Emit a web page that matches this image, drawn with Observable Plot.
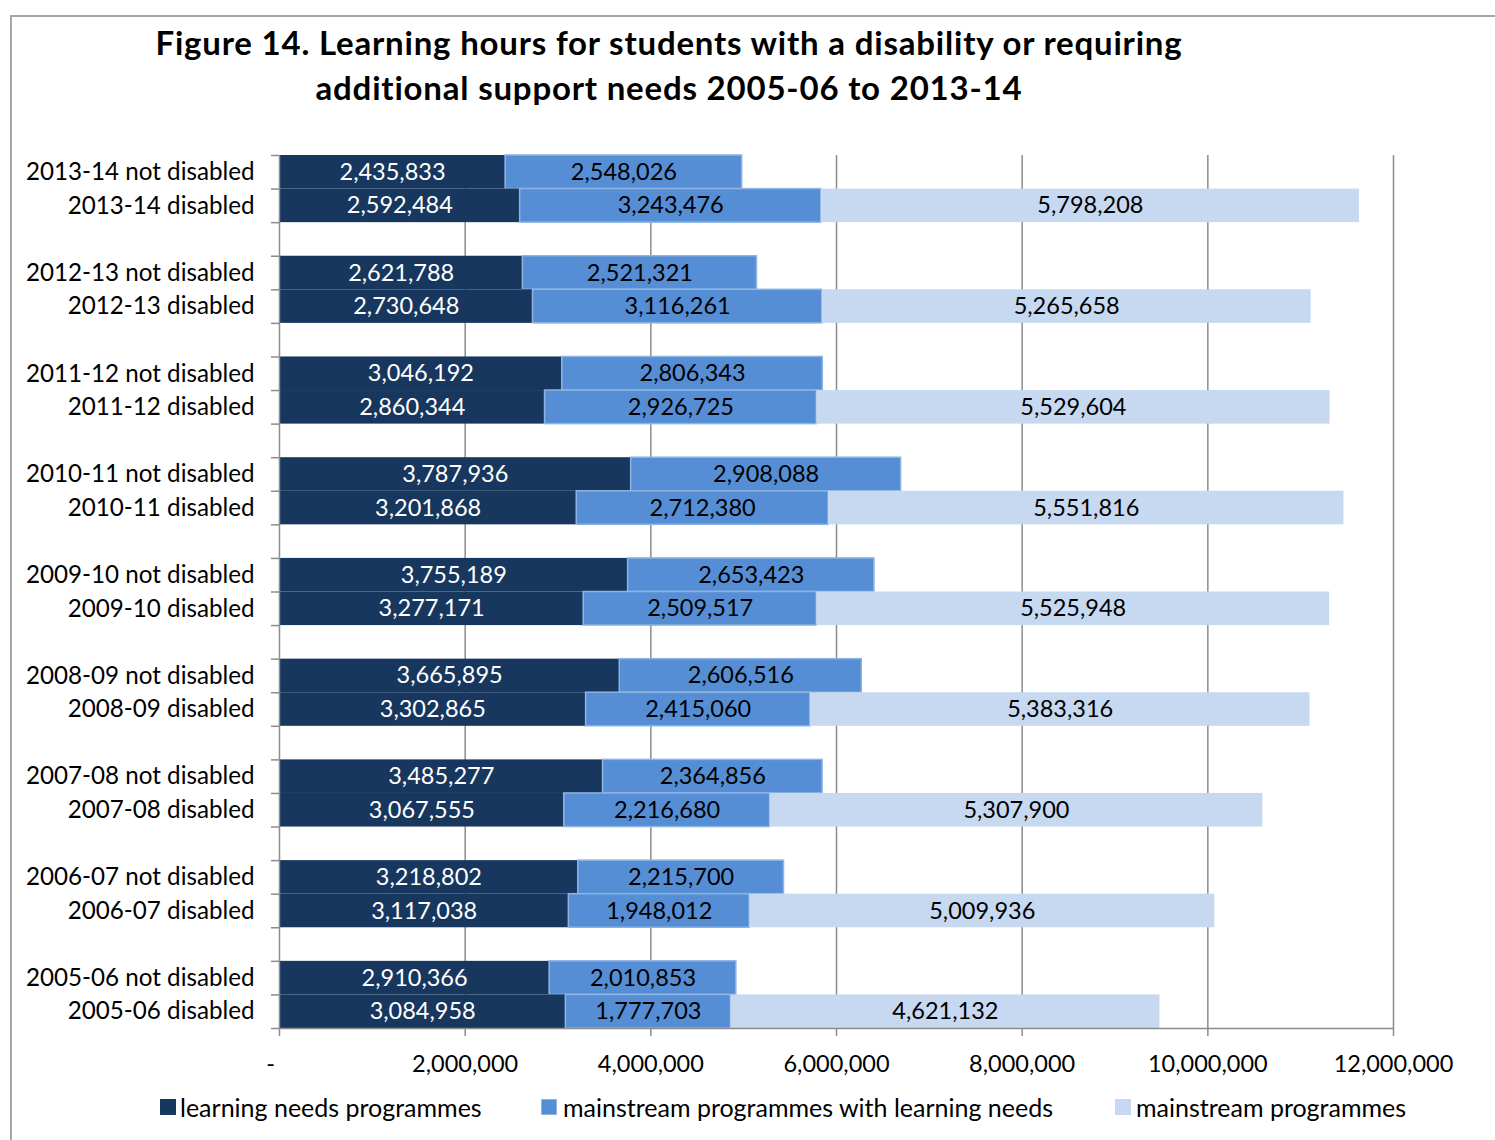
<!DOCTYPE html>
<html>
<head>
<meta charset="utf-8">
<script src="https://cdn.jsdelivr.net/npm/d3@7"></script>
<script src="https://cdn.jsdelivr.net/npm/@observablehq/plot@0.6"></script>
<style>
  html, body { margin: 0; padding: 0; background: #fff; overflow: hidden; }
  body { width: 1495px; height: 1140px; position: relative; font-family: Lato, "Open Sans", sans-serif; }
  #frame { position: absolute; left: 10px; top: 15px; width: 1500px; height: 1140px; border: 2px solid #a6a6a6; box-sizing: border-box; }
  #title { position: absolute; left: 0; top: 20px; width: 1338px; text-align: center; font-weight: 700; font-size: 33px; letter-spacing: 0.8px; line-height: 45px; color: #000; }
  #chart { position: absolute; left: 0; top: 0; }
  .lg { position: absolute; top: 1092px; font-size: 25px; line-height: 30px; color: #000; white-space: nowrap; }
  .sw { position: absolute; width: 16px; height: 16px; top: 1099px; }
</style>
</head>
<body>
<div id="frame"></div>
<div id="chart"></div>
<div id="title">Figure 14. Learning hours for students with a disability or requiring<br>additional support needs 2005-06 to 2013-14</div>
<div id="legend"></div>
<script>
// ---- data (top to bottom) ----
const years = ["2013-14", "2012-13", "2011-12", "2010-11", "2009-10", "2008-09", "2007-08", "2006-07", "2005-06"];
const groups = ["not disabled", "disabled"];
const seriesNames = ["learning needs programmes", "mainstream programmes with learning needs", "mainstream programmes"];
const seriesColors = ["#17375E", "#558ED5", "#C6D9F1"];
// learning needs programmes: [not disabled, disabled] per year
const learningNeeds = [
  [2435833, 2592484], [2621788, 2730648], [3046192, 2860344], [3787936, 3201868], [3755189, 3277171],
  [3665895, 3302865], [3485277, 3067555], [3218802, 3117038], [2910366, 3084958]
];
const mainstreamWithNeeds = [
  [2548026, 3243476], [2521321, 3116261], [2806343, 2926725], [2908088, 2712380], [2653423, 2509517],
  [2606516, 2415060], [2364856, 2216680], [2215700, 1948012], [2010853, 1777703]
];
const mainstream = [
  [null, 5798208], [null, 5265658], [null, 5529604], [null, 5551816], [null, 5525948],
  [null, 5383316], [null, 5307900], [null, 5009936], [null, 4621132]
];
const xTicks = [0, 2000000, 4000000, 6000000, 8000000, 10000000, 12000000];

// ---- build table ----
const rows = [];
const segments = [];
years.forEach((yr, g) => {
  groups.forEach((grp, r) => {
    const idx = g * 3 + r;
    rows.push({idx, label: `${yr} ${grp}`});
    const vals = [learningNeeds[g][r], mainstreamWithNeeds[g][r], mainstream[g][r]];
    let acc = 0;
    vals.forEach((v, s) => {
      if (v == null) return;
      segments.push({idx, series: s, x1: acc, x2: acc + v, value: v});
      acc += v;
    });
  });
});
const nRows = years.length * 3 - 1;
const fmt = d3.format(",");
const grid = "#8c8c8c";

const chart = Plot.plot({
  width: 1495,
  height: 1140,
  marginLeft: 279,
  marginRight: 102,
  marginTop: 155,
  marginBottom: 112,
  style: {fontFamily: "Lato, 'Open Sans', sans-serif", fontSize: "23px", color: "#000", background: "transparent", overflow: "visible"},
  x: {domain: [0, 12000000]},
  y: {domain: [0, nRows], reverse: true},
  marks: [
    Plot.ruleX(xTicks.slice(1), {y1: 0, y2: nRows, stroke: grid, strokeWidth: 1.5}),
    Plot.rectX(segments, {
      x1: "x1", x2: "x2", y1: d => d.idx, y2: d => d.idx + 1,
      fill: d => seriesColors[d.series],
      stroke: d => d.series === 1 ? "#8DB4E2" : "none",
      strokeWidth: 1.5
    }),
    Plot.text(segments, {
      x: d => (d.x1 + d.x2) / 2, y: d => d.idx + 0.5,
      text: d => fmt(d.value),
      fill: d => d.series === 0 ? "#fff" : "#000",
      fontSize: 23.5
    }),
    Plot.ruleX([0], {y1: 0, y2: nRows, stroke: grid, strokeWidth: 1.5}),
    Plot.ruleY([nRows], {stroke: grid, strokeWidth: 1.5}),
    Plot.axisX({
      ticks: xTicks, tickSize: 8, tickPadding: 19, stroke: grid, strokeWidth: 1.5, fill: "#000",
      fontSize: 23.5, tickFormat: d => d === 0 ? "-\u2003" : fmt(d)
    }),
    Plot.axisY({ticks: d3.range(nRows + 1), tickSize: 8, stroke: grid, strokeWidth: 1.5, tickFormat: () => ""}),
    Plot.text(rows, {x: 0, y: d => d.idx + 0.5, text: "label", dx: -25, textAnchor: "end", fill: "#000", fontSize: 24.2})
  ]
});
document.getElementById("chart").appendChild(chart);

// ---- legend ----
const legendPos = [[160, 180], [541, 563], [1115, 1136]];
const lg = document.getElementById("legend");
seriesNames.forEach((name, i) => {
  const sw = document.createElement("div");
  sw.className = "sw";
  sw.style.left = legendPos[i][0] + "px";
  sw.style.background = seriesColors[i];
  if (i === 1) { sw.style.boxSizing = "border-box"; sw.style.border = "1px solid #8DB4E2"; }
  lg.appendChild(sw);
  const t = document.createElement("div");
  t.className = "lg";
  t.style.left = legendPos[i][1] + "px";
  t.textContent = name;
  lg.appendChild(t);
});
</script>
</body>
</html>
